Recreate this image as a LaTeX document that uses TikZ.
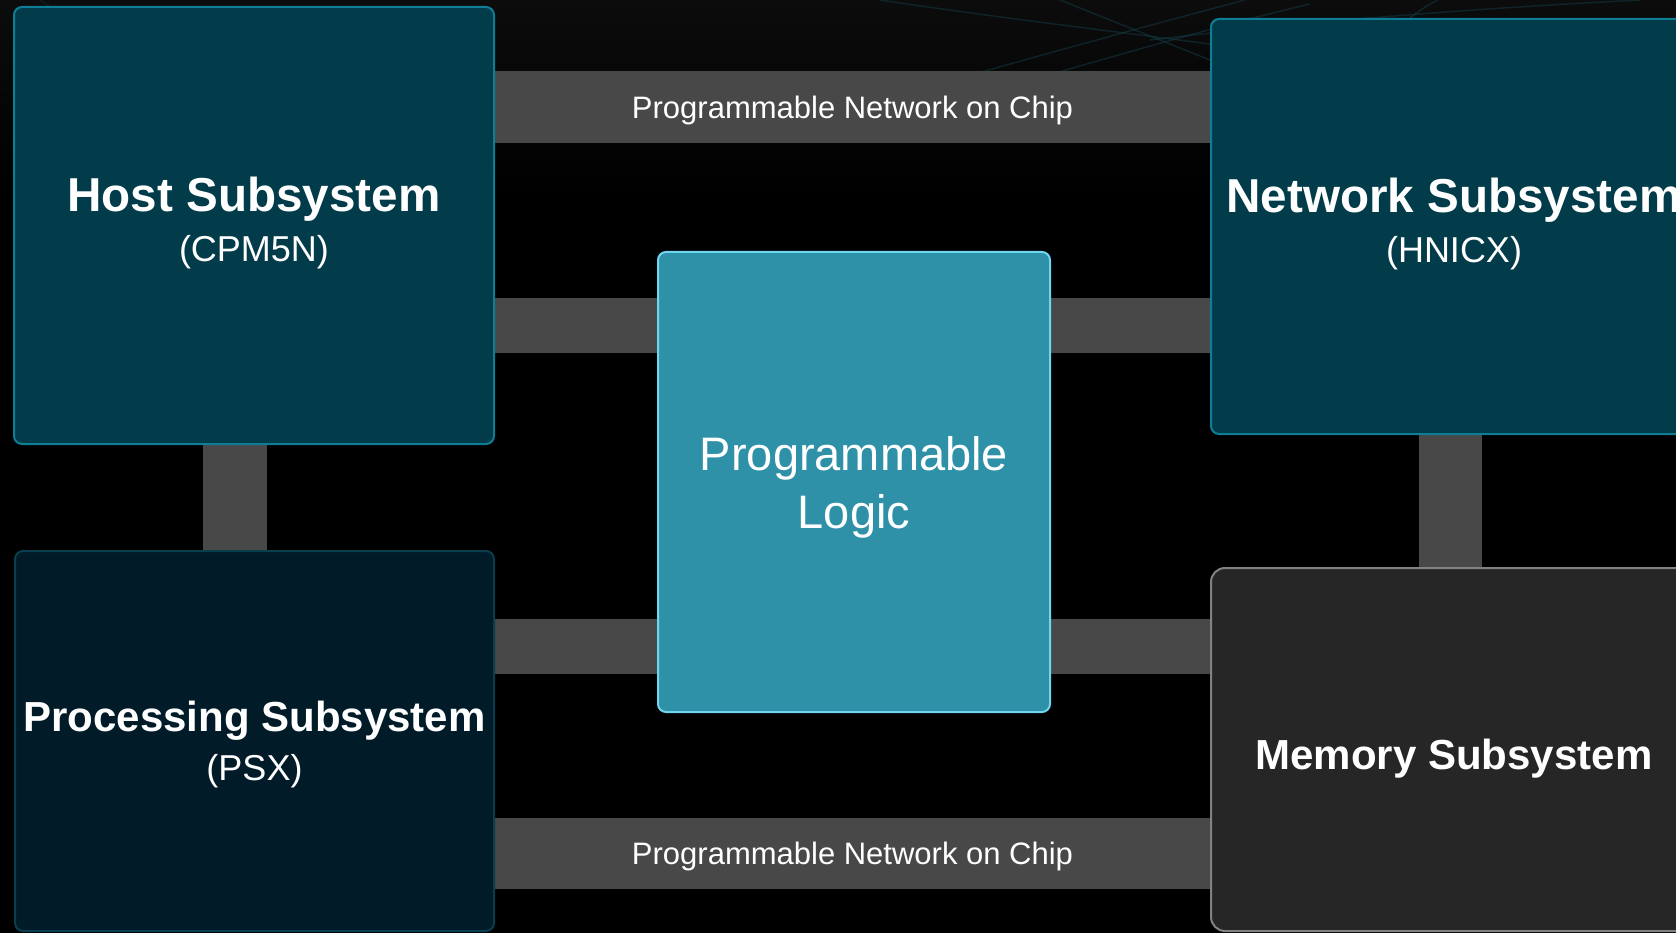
\documentclass[tikz,border=0pt]{standalone}
\usepackage{fontspec}
\setmainfont{Liberation Sans}
\usetikzlibrary{backgrounds}

\definecolor{hostfill}{RGB}{2,60,74}
\definecolor{hostedge}{RGB}{14,125,150}
\definecolor{procfill}{RGB}{1,28,40}
\definecolor{procedge}{RGB}{8,62,78}
\definecolor{memfill}{RGB}{38,38,38}
\definecolor{memedge}{RGB}{130,130,130}
\definecolor{plfill}{RGB}{46,145,168}
\definecolor{pledge}{RGB}{112,214,240}
\definecolor{busgray}{RGB}{72,72,72}
\definecolor{topgray}{RGB}{12,12,12}
\definecolor{streakteal}{RGB}{22,72,84}

\begin{document}
\begin{tikzpicture}[x=1pt,y=-1pt,
  block/.style={rectangle, rounded corners=8pt, line width=2pt, inner sep=0pt,
                text=white, align=center},
  subsys/.style={block, draw=hostedge, fill=hostfill,
                 font=\fontsize{36}{50.5}\selectfont},
  procbox/.style={block, draw=procedge, fill=procfill,
                  font=\fontsize{36}{49}\selectfont},
  membox/.style={block, rounded corners=14pt, draw=memedge, fill=memfill,
                 font=\fontsize{42}{49}\selectfont\bfseries,
                 text height=39pt, text depth=0pt},
  logicbox/.style={block, draw=pledge, fill=plfill,
                   font=\fontsize{47}{57.5}\selectfont},
  bus/.style={draw=busgray, line width=#1},
  bus/.default=55pt,
  noclabel/.style={text=white, font=\fontsize{31}{31}\selectfont,
                   text height=22.2pt, text depth=0pt, inner sep=0pt},
  streak/.style={draw=streakteal, line width=1.5pt, opacity=0.4},
]
\useasboundingbox (0,0) rectangle (1676,933);
\clip (0,0) rectangle (1676,933);

% subsystem blocks
\node[subsys, minimum width=480pt, minimum height=437pt] (host) at (254,225.5)
  {{\fontsize{47.6}{50.5}\selectfont\bfseries Host Subsystem}\\(CPM5N)\rule[-12pt]{0pt}{0pt}};
\node[subsys, minimum width=486pt, minimum height=415pt] (net) at (1454,226.5)
  {{\fontsize{47.6}{50.5}\selectfont\bfseries Network Subsystem}\\(HNICX)\rule[-12pt]{0pt}{0pt}};
\node[procbox, minimum width=479pt, minimum height=380pt] (proc) at (254.5,741)
  {\rule{0pt}{37pt}{\fontsize{42}{49}\selectfont\bfseries Processing Subsystem}\\(PSX)};
\node[membox, minimum width=486pt, minimum height=363pt] (mem) at (1454,749.5)
  {Memory Subsystem};
\node[logicbox, minimum width=392pt, minimum height=460pt] (pl) at (854,482)
  {\rule{0pt}{45pt}Programmable\\Logic};

% levels of the interconnect bars
\coordinate (nocA) at (0,107);
\coordinate (nocB) at (0,853.5);
\coordinate (linkA) at (0,325.5);
\coordinate (linkB) at (0,646.5);
\coordinate (vA) at (235,0);
\coordinate (vB) at (1450.5,0);

\begin{scope}[on background layer]
  \fill[black] (0,0) rectangle (1676,933);
  \shade[top color=topgray, bottom color=black] (0,0) rectangle (1676,200);
  % faint fibre streaks along the top edge
  \draw[streak] (880,0) .. controls (1000,18) and (1120,32) .. (1240,48);
  \draw[streak] (960,78) .. controls (1060,50) and (1150,25) .. (1245,0);
  \draw[streak] (1030,80) .. controls (1120,55) and (1220,25) .. (1310,4);
  \draw[streak] (1060,0) .. controls (1110,20) and (1160,40) .. (1215,62);
  \draw[streak] (1150,40) .. controls (1300,22) and (1480,8) .. (1640,0);
  \draw[streak] (1405,22) .. controls (1415,14) and (1425,6) .. (1438,0);
  \draw[streak, opacity=0.3] (40,0) .. controls (46,4) and (52,8) .. (58,12);

  % programmable network on chip
  \draw[bus=72pt] (host.east |- nocA) -- node[noclabel] (nocTop) {Programmable Network on Chip} (net.west |- nocA);
  \draw[bus=71pt] (proc.east |- nocB) -- node[noclabel] (nocBot) {Programmable Network on Chip} (mem.west |- nocB);

  % links to the programmable logic
  \draw[bus] (host.east |- linkA) -- (pl.west |- linkA);
  \draw[bus] (pl.east |- linkA) -- (net.west |- linkA);
  \draw[bus] (proc.east |- linkB) -- (pl.west |- linkB);
  \draw[bus] (pl.east |- linkB) -- (mem.west |- linkB);

  % vertical links between stacked subsystems
  \draw[bus=64pt] (host.south -| vA) -- (proc.north -| vA);
  \draw[bus=63pt] (net.south -| vB) -- (mem.north -| vB);
\end{scope}
\end{tikzpicture}
\end{document}
